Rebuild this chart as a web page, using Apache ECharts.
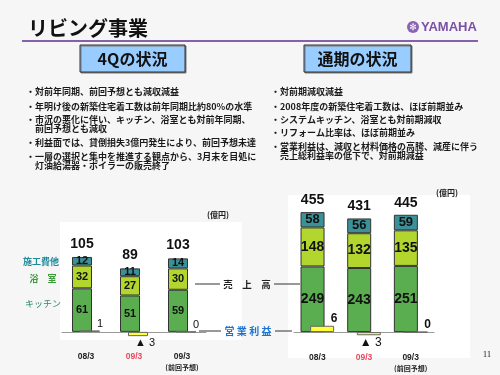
<!DOCTYPE html>
<html>
<head>
<meta charset="utf-8">
<script src="https://cdn.jsdelivr.net/npm/echarts@6/dist/echarts.min.js"></script>
<style>
html,body{margin:0;padding:0;background:#f6f6f6;}
#chart{width:500px;height:375px;}
</style>
</head>
<body>
<div id="chart"></div>
<script>
// リビング事業 売上高・営業利益（億円）
var categories = ['08/3', '09/3', '09/3'];
var forecastNote = '(前回予想)';

// 4Q
var q4Kitchen = [61, 51, 59];
var q4Bath = [32, 27, 30];
var q4Other = [12, 11, 14];
var q4Total = [105, 89, 103];
var q4Profit = [1, -3, 0];

// 通期
var fyKitchen = [249, 243, 251];
var fyBath = [148, 132, 135];
var fyOther = [58, 56, 59];
var fyTotal = [455, 431, 445];
var fyProfit = [6, -3, 0];

var leftBullets = [
    '・対前年同期、前回予想とも減収減益',
    '・年明け後の新築住宅着工数は前年同期比約80%の水準',
    '・市況の悪化に伴い、キッチン、浴室とも対前年同期、',
    '　前回予想とも減収',
    '・利益面では、貸倒損失3億円発生により、前回予想未達',
    '・一層の選択と集中を推進する観点から、3月末を目処に',
    '　灯油給湯器・ボイラーの販売終了'
];
var rightBullets = [
    '・対前期減収減益',
    '・2008年度の新築住宅着工数は、ほぼ前期並み',
    '・システムキッチン、浴室とも対前期減収',
    '・リフォーム比率は、ほぼ前期並み',
    '・営業利益は、減収と材料価格の高騰、減産に伴う',
    '　売上総利益率の低下で、対前期減益'
];

var JP = '"Noto Sans CJK JP", sans-serif';
var NUM = '"Liberation Sans", Arial, sans-serif';
var GREEN = '#5aae50', LIME = '#b2d62e', TEAL = '#3b9198', YELLOW = '#ffff3a';

function txt(x, y, s, font, fill, align) {
    return {
        type: 'text', x: x, y: y, silent: true,
        style: {text: s, font: font, fill: fill || '#111', align: align || 'left', verticalAlign: 'middle'}
    };
}
function line(x1, y1, x2, y2, color, w) {
    return {type: 'line', silent: true, shape: {x1: x1, y1: y1, x2: x2, y2: y2},
        style: {stroke: color || '#333', lineWidth: w || 1}};
}

var graphic = [
    {type: 'rect', shape: {x: 60, y: 222, width: 182, height: 118}, style: {fill: '#fff'}, z: -1},
    {type: 'rect', shape: {x: 288, y: 195, width: 182, height: 163}, style: {fill: '#fff'}, z: -1},
    txt(28, 28, 'リビング事業', 'bold 20px ' + JP, '#111'),
    line(22, 41, 478, 41, '#8561ad', 2),
    {type: 'circle', shape: {cx: 413, cy: 27, r: 6}, style: {fill: '#8a64b4'}},
    txt(413, 27.5, '✻', '9px "DejaVu Sans"', '#fff', 'center'),
    txt(421, 27, 'YAMAHA', 'bold 13px "Liberation Sans Narrow", "Liberation Sans", sans-serif', '#7b4fa6'),
    {type: 'rect', shape: {x: 80, y: 45, width: 105, height: 27},
        style: {fill: '#99ccff', stroke: '#333', lineWidth: 1, shadowColor: '#777', shadowOffsetX: 1, shadowOffsetY: 1}},
    txt(132.5, 58.5, '4Qの状況', 'bold 16px ' + JP, '#111', 'center'),
    {type: 'rect', shape: {x: 304, y: 45, width: 107, height: 27},
        style: {fill: '#99ccff', stroke: '#333', lineWidth: 1, shadowColor: '#777', shadowOffsetX: 1, shadowOffsetY: 1}},
    txt(357.5, 58.5, '通期の状況', 'bold 16px ' + JP, '#111', 'center'),
    // legend-ish labels
    txt(41, 262, '施工費他', 'bold 9px ' + JP, '#1d8a9a', 'center'),
    txt(43, 279, '浴　室', 'bold 9px ' + JP, '#3a9a3a', 'center'),
    txt(43, 304, 'キッチン', '9px ' + JP, '#2f8a6a', 'center'),
    txt(218, 215, '(億円)', 'bold 8px ' + JP, '#222', 'center'),
    txt(447, 193, '(億円)', 'bold 8px ' + JP, '#222', 'center'),
    // shared middle labels
    txt(247, 284, '売　上　高', 'bold 9.5px ' + JP, '#222', 'center'),
    line(195, 284, 220, 284), line(274, 284, 300, 284),
    txt(248, 331, '営 業 利 益', 'bold 10px ' + JP, '#1a73d0', 'center'),
    line(199, 331, 221, 331), line(275, 331, 292, 331),
    txt(487, 355, '11', '9px "Liberation Serif", serif', '#222', 'center')
];
var leftY = [92, 107, 120, 129, 143, 157, 166];
leftBullets.forEach(function (s, i) {
    graphic.push(txt(26, leftY[i], s, 'bold 9px ' + JP, '#1a1a1a'));
});
var rightY = [92, 107, 119.5, 133, 147, 156];
rightBullets.forEach(function (s, i) {
    graphic.push(txt(271, rightY[i], s, 'bold 9px ' + JP, '#1a1a1a'));
});

function xAxisFor(gridIndex) {
    return {
        type: 'category', gridIndex: gridIndex,
        data: categories.map(function (c, i) {
            if (i === 1) return {value: c, textStyle: {color: '#e8485e'}};
            if (i === 2) return {value: c + '\n{s|' + forecastNote + '}'};
            return c;
        }),
        axisLine: {onZero: true, lineStyle: {color: '#999'}},
        axisTick: {show: false},
        axisLabel: {
            interval: 0, margin: 13, fontSize: 8.5, fontWeight: 'bold', color: '#222', fontFamily: NUM, lineHeight: 10,
            rich: {s: {fontSize: 7, fontFamily: JP, color: '#222', fontWeight: 'bold'}}
        }
    };
}

function salesSeries(grid, yIdx, data, color, width, fontSize) {
    return {
        type: 'bar', stack: 'sales' + grid, xAxisIndex: grid, yAxisIndex: yIdx,
        data: data, barWidth: width, barGap: '-60%',
        itemStyle: {color: color, borderColor: '#333', borderWidth: 1},
        label: {show: true, position: 'inside', color: '#111', fontWeight: 'bold', fontSize: fontSize, fontFamily: NUM},
        silent: true
    };
}

function totalSeries(grid, yIdx, totals, width, fontSize, dist) {
    // zero-height cap on the stack, carries the total label
    return {
        type: 'bar', stack: 'sales' + grid, xAxisIndex: grid, yAxisIndex: yIdx,
        data: totals.map(function () { return 0; }), barWidth: width, barGap: '-60%',
        itemStyle: {color: 'transparent'},
        label: {show: true, position: 'top', distance: dist, color: '#111', fontWeight: 'bold',
            fontSize: fontSize, fontFamily: NUM,
            formatter: function (p) { return totals[p.dataIndex]; }},
        silent: true
    };
}

function profitSeries(grid, yIdx, vals, width, fontSize, weight, negOffset) {
    return {
        type: 'bar', xAxisIndex: grid, yAxisIndex: yIdx, barWidth: width, barGap: '-60%',
        data: vals.map(function (v) {
            return {value: v, label: v < 0
                ? {position: 'bottom', distance: 1, offset: [negOffset, 0], fontWeight: 'normal'}
                : {position: 'top', distance: 1, offset: [width / 2, 0]}};
        }),
        itemStyle: {color: YELLOW, borderColor: '#666', borderWidth: 1},
        label: {show: true, color: '#111', fontSize: fontSize, fontWeight: weight, fontFamily: NUM,
            formatter: function (p) { return p.value < 0 ? '▲ ' + (-p.value) : p.value; }},
        z: 3, silent: true
    };
}

var option = {
    animation: false,
    backgroundColor: '#f6f6f6',
    graphic: graphic,
    grid: [
        {left: 62, width: 144, top: 232, height: 107},
        {left: 294, width: 140, top: 195, height: 145}
    ],
    xAxis: [xAxisFor(0), xAxisFor(1)],
    yAxis: [
        {type: 'value', gridIndex: 0, min: -10, max: 140, show: false},
        {type: 'value', gridIndex: 0, min: -5, max: 70, show: false},
        {type: 'value', gridIndex: 1, min: -30, max: 520, show: false},
        {type: 'value', gridIndex: 1, min: -7.5, max: 130, show: false}
    ],
    series: [
        salesSeries(0, 0, q4Kitchen, GREEN, 20, 11),
        salesSeries(0, 0, q4Bath, LIME, 20, 11),
        salesSeries(0, 0, q4Other, TEAL, 20, 11),
        totalSeries(0, 0, q4Total, 20, 14, 6),
        profitSeries(0, 1, q4Profit, 20, 11, 'normal', 7),
        salesSeries(1, 2, fyKitchen, GREEN, 24, 14),
        salesSeries(1, 2, fyBath, LIME, 24, 14),
        salesSeries(1, 2, fyOther, TEAL, 24, 13),
        totalSeries(1, 2, fyTotal, 24, 14, 5),
        profitSeries(1, 3, fyProfit, 24, 12, 'bold', 2)
    ]
};

var chart = echarts.init(document.getElementById('chart'));
chart.setOption(option);
</script>
</body>
</html>
